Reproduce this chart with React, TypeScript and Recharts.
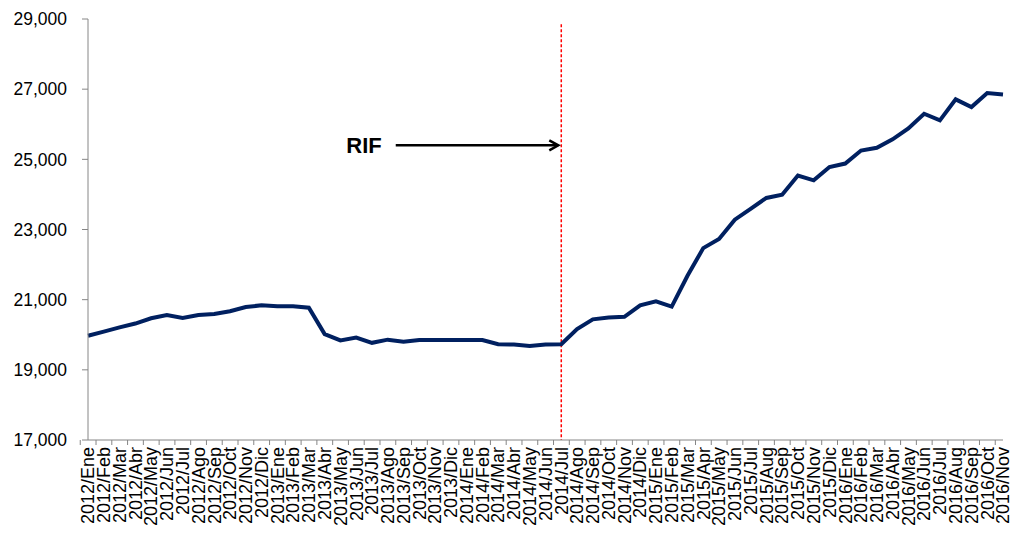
import { Line, LineChart, ReferenceLine, XAxis, YAxis } from "recharts";

const months = [
    "2012/Ene", "2012/Feb", "2012/Mar", "2012/Abr", "2012/May", "2012/Jun",
    "2012/Jul", "2012/Ago", "2012/Sep", "2012/Oct", "2012/Nov", "2012/Dic",
    "2013/Ene", "2013/Feb", "2013/Mar", "2013/Abr", "2013/May", "2013/Jun",
    "2013/Jul", "2013/Ago", "2013/Sep", "2013/Oct", "2013/Nov", "2013/Dic",
    "2014/Ene", "2014/Feb", "2014/Mar", "2014/Abr", "2014/May", "2014/Jun",
    "2014/Jul", "2014/Ago", "2014/Sep", "2014/Oct", "2014/Nov", "2014/Dic",
    "2015/Ene", "2015/Feb", "2015/Mar", "2015/Apr", "2015/May", "2015/Jun",
    "2015/Jul", "2015/Aug", "2015/Sep", "2015/Oct", "2015/Nov", "2015/Dic",
    "2016/Ene", "2016/Feb", "2016/Mar", "2016/Abr", "2016/May", "2016/Jun",
    "2016/Jul", "2016/Aug", "2016/Sep", "2016/Oct", "2016/Nov",
];

const values = [
    19970, 20090, 20210, 20320, 20470, 20560, 20480, 20560, 20590, 20670, 20790, 20840,
    20810, 20810, 20770, 20020, 19840, 19920, 19770, 19860, 19800, 19850, 19850, 19850,
    19850, 19850, 19730, 19720, 19680, 19720, 19730, 20160, 20440, 20490, 20510, 20840,
    20950, 20800, 21680, 22470, 22730, 23280, 23590, 23900, 23990, 24540, 24400, 24780,
    24880, 25250, 25330, 25570, 25880, 26300, 26110, 26710, 26490, 26890, 26850,
];

const yTicks = [17000, 19000, 21000, 23000, 25000, 27000, 29000];

// RIF marker: month where the line is drawn, arrow start month and its height
const rifMonth = "2014/Jul";
const arrowFrom = "2013/Ago";
const arrowY = 25400;
const rifLineTop = 28850;

const data = months.map((m, i) => ({ month: m, value: values[i] }));

// chart fills the whole window, pinned to the top-left corner (no body margin)
const CHART_W = 1010;
const CHART_H = 533;
const MARGIN = { top: 19, right: 7, bottom: 0, left: 0 };
const Y_W = 88;
const BAND = (CHART_W - MARGIN.left - MARGIN.right - Y_W) / months.length;
const AXIS = "#868686";
const FONT = "'Liberation Sans', Arial, sans-serif";

function XTick(props: any) {
    const { x, y, payload, index } = props;
    const half = BAND / 2;
    return (
        <g>
            <line x1={x - half} x2={x - half} y1={y} y2={y + 5} stroke={AXIS} />
            {index === months.length - 1 && (
                <line x1={x + half} x2={x + half} y1={y} y2={y + 5} stroke={AXIS} />
            )}
            <text
                transform={`translate(${x},${y + 7}) rotate(-90)`}
                textAnchor="end"
                dy="0.35em"
                fontSize={18}
                fontFamily={FONT}
                fill="#000"
            >
                {payload.value}
            </text>
        </g>
    );
}

function Arrow(props: any) {
    const { x1, y1, x2 } = props;
    const tip = x2 - 3;
    return (
        <g>
            <text x={x1 - 6} y={y1} dy="0.36em" textAnchor="end" fontSize={22}
                  fontWeight="bold" fontFamily={FONT} fill="#000">RIF</text>
            <line x1={x1 + 8} y1={y1} x2={tip} y2={y1} stroke="#000" strokeWidth={2.5} />
            <polyline points={`${tip - 9},${y1 - 5} ${tip},${y1} ${tip - 9},${y1 + 5}`}
                      fill="none" stroke="#000" strokeWidth={2.5} />
        </g>
    );
}

export default function App() {
    return (
        <div style={{ position: "absolute", left: 0, top: 0, width: CHART_W, height: CHART_H, overflow: "hidden" }}>
            <LineChart width={CHART_W} height={CHART_H} data={data} margin={MARGIN}
                       style={{ fontFamily: FONT }}>
                <XAxis dataKey="month" type="category" interval={0} height={93}
                       tick={<XTick />} tickLine={false} tickSize={0} tickMargin={0}
                       axisLine={{ stroke: AXIS }} />
                <YAxis width={Y_W} type="number" domain={[17000, 29000]} ticks={yTicks}
                       interval={0} tickSize={6} tickMargin={15}
                       tickFormatter={(v: number) => v.toLocaleString("en-US")}
                       tick={{ fontSize: 17.5, fill: "#000", fontFamily: FONT }}
                       axisLine={{ stroke: AXIS }} tickLine={{ stroke: AXIS }} />
                <ReferenceLine segment={[{ x: rifMonth, y: rifLineTop }, { x: rifMonth, y: 17000 }]}
                               stroke="#ff0000" strokeWidth={1.5} strokeDasharray="3 2" />
                <ReferenceLine segment={[{ x: arrowFrom, y: arrowY }, { x: rifMonth, y: arrowY }]}
                               shape={(p: any) => <Arrow {...p} />} />
                <Line type="linear" dataKey="value" stroke="#002060" strokeWidth={4}
                      dot={false} activeDot={false} isAnimationActive={false} />
            </LineChart>
        </div>
    );
}
